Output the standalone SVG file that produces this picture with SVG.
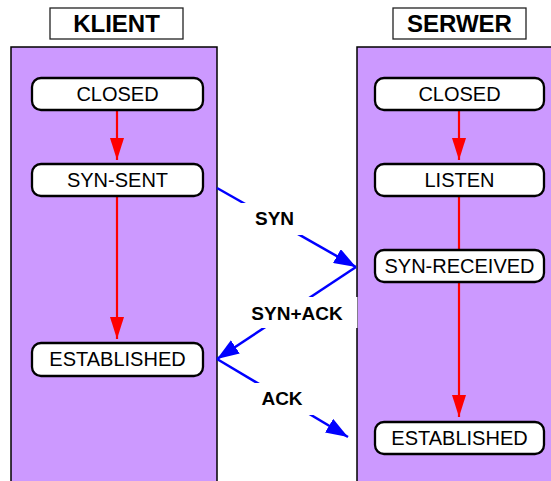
<svg xmlns="http://www.w3.org/2000/svg" width="551" height="481" viewBox="0 0 551 481">
  <style>
    .panel { fill: #cc99ff; stroke: #000; stroke-width: 1.5; }
    .title rect { fill: #fff; stroke: #222; stroke-width: 1.3; }
    .title text { font-family: "Liberation Sans", Arial, sans-serif; font-weight: bold; font-size: 24px; text-anchor: middle; fill: #000; }
    .state rect { fill: #fff; stroke: #000; stroke-width: 2.3; }
    .state text { font-family: "Liberation Sans", Arial, sans-serif; font-size: 20px; text-anchor: middle; fill: #000; }
    .step { stroke: #ff0000; stroke-width: 2.2; fill: none; }
    .msg { stroke: #0000ff; stroke-width: 2.5; fill: none; }
    .label rect { fill: #fff; stroke: none; }
    .label text { font-family: "Liberation Sans", Arial, sans-serif; font-weight: bold; font-size: 19px; text-anchor: middle; fill: #000; }
  </style>
  <defs>
    <marker id="redHead" viewBox="0 0 22 14" refX="22" refY="7" markerWidth="22" markerHeight="14" markerUnits="userSpaceOnUse" orient="auto">
      <path d="M0,0 L22,7 L0,14 z" fill="#ff0000"/>
    </marker>
    <marker id="blueHead" viewBox="0 0 22 16" refX="22" refY="8" markerWidth="22" markerHeight="16" markerUnits="userSpaceOnUse" orient="auto">
      <path d="M0,0 L22,8 L0,16 z" fill="#0000ff"/>
    </marker>
  </defs>

  <rect width="551" height="481" fill="#fff"/>

  <!-- swimlanes -->
  <g id="client-lane">
    <rect class="panel" x="11" y="47" width="206" height="450"/>
    <g class="title"><rect x="50" y="8" width="133" height="31"/><text x="116.5" y="32">KLIENT</text></g>
  </g>
  <g id="server-lane">
    <rect class="panel" x="357" y="47" width="220" height="450"/>
    <g class="title"><rect x="393" y="8" width="133" height="31"/><text x="459.5" y="32">SERWER</text></g>
  </g>

  <!-- state transitions and messages -->
  <g id="connectors">
    <line class="step" x1="117" y1="110" x2="117" y2="160" marker-end="url(#redHead)"/>
    <line class="step" x1="117" y1="196" x2="117" y2="339" marker-end="url(#redHead)"/>
    <line class="step" x1="459" y1="110" x2="459" y2="160" marker-end="url(#redHead)"/>
    <line class="step" x1="459" y1="196" x2="459" y2="250"/>
    <line class="step" x1="459" y1="282" x2="459" y2="417" marker-end="url(#redHead)"/>

    <line class="msg" x1="217" y1="188" x2="356" y2="267" marker-end="url(#blueHead)"/>
    <line class="msg" x1="356" y1="267" x2="217" y2="359" marker-end="url(#blueHead)"/>
    <line class="msg" x1="217" y1="359" x2="348" y2="437" marker-end="url(#blueHead)"/>
  </g>

  <!-- message labels -->
  <g id="label-syn" class="label"><rect x="240" y="203" width="68" height="32"/><text x="274.5" y="225">SYN</text></g>
  <g id="label-synack" class="label"><rect x="238" y="297" width="119.4" height="31"/><text x="297" y="320">SYN+ACK</text></g>
  <g id="label-ack" class="label"><rect x="247" y="383" width="70" height="32"/><text x="282" y="405">ACK</text></g>

  <!-- client states -->
  <g id="c-closed" class="state"><rect x="32" y="78" width="171" height="32" rx="9"/><text x="117.5" y="101">CLOSED</text></g>
  <g id="c-synsent" class="state"><rect x="32" y="164" width="171" height="32" rx="9"/><text x="117.5" y="187">SYN-SENT</text></g>
  <g id="c-established" class="state"><rect x="32" y="343" width="171" height="33" rx="9"/><text x="117.5" y="366">ESTABLISHED</text></g>

  <!-- server states -->
  <g id="s-closed" class="state"><rect x="375" y="78" width="169" height="32" rx="9"/><text x="459.5" y="101">CLOSED</text></g>
  <g id="s-listen" class="state"><rect x="375" y="164" width="169" height="32" rx="9"/><text x="459.5" y="187">LISTEN</text></g>
  <g id="s-synreceived" class="state"><rect x="375" y="250" width="169" height="32" rx="9"/><text x="459.5" y="273">SYN-RECEIVED</text></g>
  <g id="s-established" class="state"><rect x="375" y="422" width="169" height="32" rx="9"/><text x="459.5" y="445">ESTABLISHED</text></g>
</svg>
